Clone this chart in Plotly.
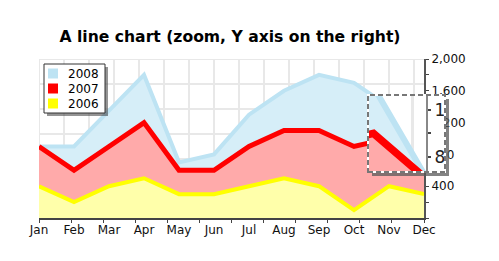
import plotly.graph_objects as go

# ---------------- data ----------------
months = ["Jan", "Feb", "Mar", "Apr", "May", "Jun", "Jul", "Aug", "Sep", "Oct", "Nov", "Dec"]
s2008 = [900, 900, 1350, 1800, 700, 800, 1300, 1600, 1800, 1700, 1400, 600]
s2007 = [900, 600, 900, 1200, 600, 600, 900, 1100, 1100, 900, 1000, 600]
s2006 = [400, 200, 400, 500, 300, 300, 400, 500, 400, 100, 400, 300]
y_ticks = [400, 800, 1200, 1600, 2000]

# ---------------- styling ----------------
W, H = 499, 261
L, T, B = 39, 59, 43
PAPER_W = 420                 # paper width (plot area + room for the lens)
PLOT_W, PLOT_H = 385, 159
FONT = "DejaVu Sans"

styles = [
    ("2008", s2008, "#bde3f3", "#d6eef8", 4),
    ("2007", s2007, "#ff0000", "#ffaaaa", 5),
    ("2006", s2006, "#ffff00", "#ffffaa", 4),
]

x = list(range(len(months)))
xmax = len(months) - 1
ymax = 2000


def px_x(px):
    return (px - L) / PAPER_W


def px_y(py):
    return (T + PLOT_H - py) / PLOT_H


fig = go.Figure()

# main areas
for name, vals, lc, fc, lw in styles:
    fig.add_trace(go.Scatter(
        x=x, y=vals, mode="lines", fill="tozeroy", fillcolor=fc, name=name,
        line=dict(color=lc, width=lw), showlegend=False, hoverinfo="skip",
        xaxis="x", yaxis="y"))

# lens (magnified) areas
MAG = 1.5
for name, vals, lc, fc, lw in styles:
    fig.add_trace(go.Scatter(
        x=x, y=vals, mode="lines", fill="tozeroy", fillcolor=fc, name=name,
        line=dict(color=lc, width=lw * MAG), showlegend=False, hoverinfo="skip",
        xaxis="x2", yaxis="y2"))

# grid (25px square grid)
grid_col = "#e8e8e8"
px_per_x = PLOT_W / xmax
px_per_y = PLOT_H / ymax
grid_x = [k * 25 / px_per_x for k in range(0, 20) if k * 25 <= PLOT_W]
grid_y = [ymax - k * 25 / px_per_y for k in range(0, 10) if k * 25 <= PLOT_H]
shapes = []
for gx in grid_x:
    shapes.append(dict(type="line", xref="x", yref="y", x0=gx, x1=gx, y0=0, y1=ymax,
                       line=dict(color=grid_col, width=2), layer="below"))
for gy in grid_y:
    shapes.append(dict(type="line", xref="x", yref="y", x0=0, x1=xmax, y0=gy, y1=gy,
                       line=dict(color=grid_col, width=2), layer="below"))
for gy in grid_y:
    shapes.append(dict(type="line", xref="x2 domain", yref="y2", x0=0, x1=1, y0=gy, y1=gy,
                       line=dict(color=grid_col, width=3), layer="below"))

# lens frame
lx0, lx1, ly0, ly1 = 368, 445, 95, 172
shadow = "rgba(90,90,90,0.75)"
shapes.append(dict(type="rect", xref="paper", yref="paper",
                   x0=px_x(lx1 + 1), x1=px_x(lx1 + 4), y0=px_y(ly1 + 4), y1=px_y(ly0 + 4),
                   line=dict(width=0), fillcolor=shadow, layer="above"))
shapes.append(dict(type="rect", xref="paper", yref="paper",
                   x0=px_x(lx0 + 4), x1=px_x(lx1 + 1), y0=px_y(ly1 + 4), y1=px_y(ly1 + 1),
                   line=dict(width=0), fillcolor=shadow, layer="above"))
shapes.append(dict(type="rect", xref="paper", yref="paper",
                   x0=px_x(lx0), x1=px_x(lx1), y0=px_y(ly1), y1=px_y(ly0),
                   line=dict(color="white", width=2), layer="above"))
shapes.append(dict(type="rect", xref="paper", yref="paper",
                   x0=px_x(lx0), x1=px_x(lx1), y0=px_y(ly1), y1=px_y(ly0),
                   line=dict(color="#777777", width=2, dash="5px,3px"), layer="above"))

# legend box (drawn as a framed key)
gx0, gx1, gy0, gy1 = 44, 105, 64, 113
leg_shadow = "rgba(60,60,60,0.55)"
shapes.append(dict(type="rect", xref="paper", yref="paper",
                   x0=px_x(gx0 + 3), x1=px_x(gx1 + 3), y0=px_y(gy1 + 3), y1=px_y(gy0 + 3),
                   line=dict(width=0), fillcolor=leg_shadow, layer="above"))
shapes.append(dict(type="rect", xref="paper", yref="paper",
                   x0=px_x(gx0), x1=px_x(gx1), y0=px_y(gy1), y1=px_y(gy0),
                   line=dict(color="#333", width=1), fillcolor="white", layer="above"))
annotations = []
for i, (name, vals, lc, fc, lw) in enumerate(styles):
    cy = gy0 + 9.5 + 15 * i
    shapes.append(dict(type="rect", xref="paper", yref="paper",
                       x0=px_x(48), x1=px_x(58), y0=px_y(cy + 5), y1=px_y(cy - 5),
                       line=dict(width=0), fillcolor=lc, layer="above"))
    annotations.append(dict(text=name, xref="paper", yref="paper", x=px_x(66), y=px_y(cy),
                            xanchor="left", yanchor="middle", showarrow=False,
                            font=dict(family=FONT, size=12, color="#000")))

fig.update_layout(
    width=W, height=H,
    margin=dict(l=L, r=W - L - PAPER_W, t=T, b=B, pad=0),
    paper_bgcolor="white", plot_bgcolor="white",
    font=dict(family=FONT, size=12, color="#111"),
    showlegend=False,
    title=dict(text="<b>A line chart (zoom, Y axis on the right)</b>",
               x=px_x(230), xref="paper", xanchor="center",
               y=1 - 37 / H, yref="container", yanchor="middle",
               font=dict(family=FONT, size=15.6, color="#000")),
    xaxis=dict(domain=[0, PLOT_W / PAPER_W], range=[0, xmax],
               tickvals=x, ticktext=months, ticks="", showgrid=False, zeroline=False,
               showline=True, linecolor="#444", linewidth=1.5,
               tickfont=dict(size=12, color="#111"),
               minor=dict(tickvals=[i * xmax / 12 for i in range(13)], ticks="outside",
                          ticklen=3, tickcolor="#444", tickwidth=1, showgrid=False)),
    yaxis=dict(domain=[0, 1], range=[0, ymax], side="right", anchor="x",
               tickvals=y_ticks, tickformat=",", ticks="outside", ticklen=3,
               tickcolor="#444", tickwidth=1, showgrid=False, zeroline=False,
               showline=True, linecolor="#555", linewidth=2,
               tickfont=dict(size=12, color="#111"),
               minor=dict(dtick=200, ticks="outside", ticklen=3, tickcolor="#444",
                          tickwidth=1, showgrid=False)),
    xaxis2=dict(domain=[px_x(lx0), px_x(lx1)], range=[9.90, 11.32], anchor="y2",
                tickvals=grid_x, showticklabels=False, ticks="", showgrid=True,
                gridcolor=grid_col, gridwidth=3, zeroline=False, showline=False),
    yaxis2=dict(domain=[px_y(ly1), px_y(ly0)], range=[669, 1329], anchor="free",
                position=px_x(427), side="right",
                tickvals=[800, 1000, 1200], ticktext=["8", "", "1"],
                ticks="outside", ticklen=3, tickwidth=2, tickcolor="#444",
                tickfont=dict(size=17, color="#222"),
                showgrid=False, zeroline=False, showline=True, linecolor="#888", linewidth=2),
    shapes=shapes,
    annotations=annotations,
)

fig.write_html("out.html")
